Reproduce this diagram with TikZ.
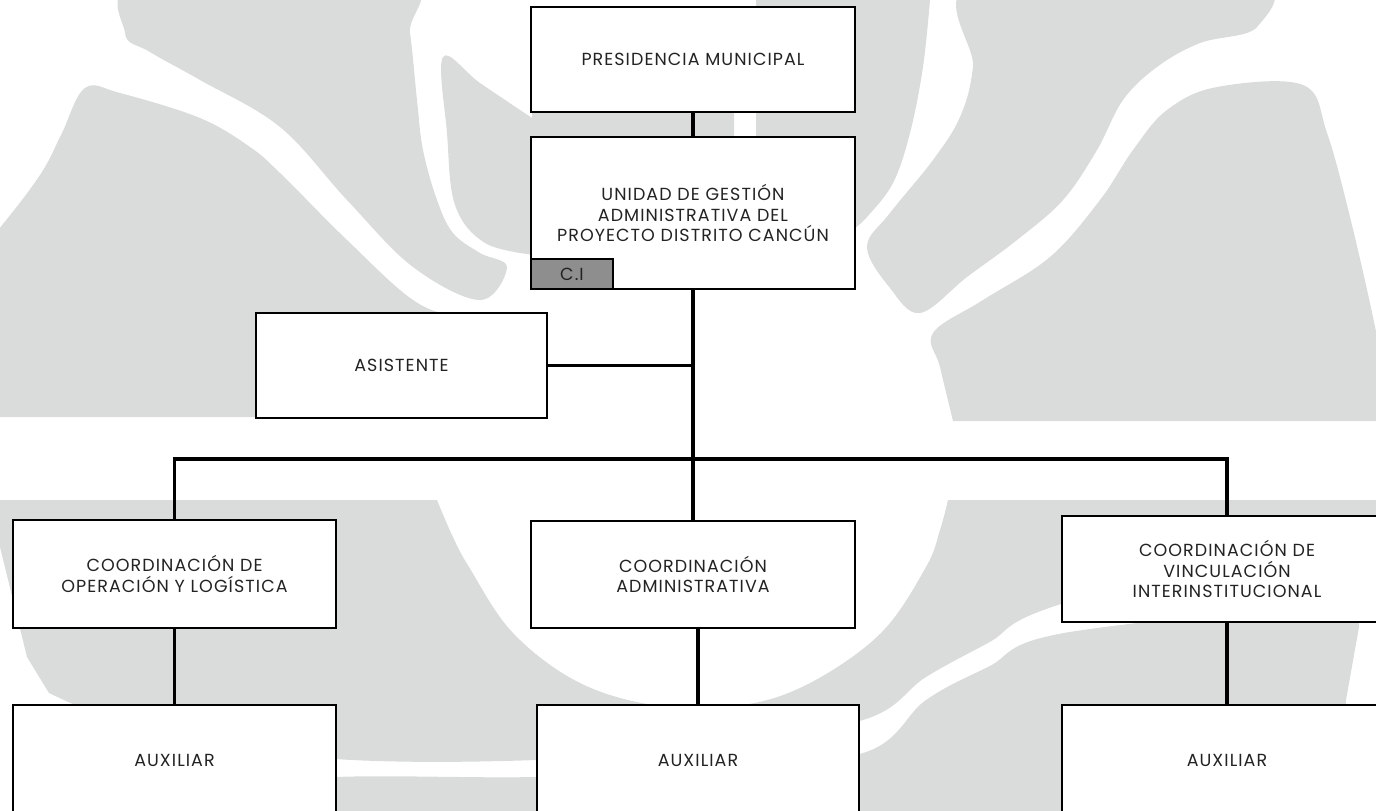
\documentclass[tikz,border=0pt]{standalone}
\usepackage{fontspec}
\setmainfont{Poppins}[LetterSpace=6]
\usepackage{tikz}
\usetikzlibrary{positioning}

\definecolor{leafgrey}{RGB}{217,220,218}
\definecolor{cigrey}{RGB}{142,142,142}
\definecolor{ink}{RGB}{35,35,35}

\begin{document}
\begin{tikzpicture}[x=1pt,y=-1pt,
    box/.style={draw=black,line width=2.8pt,fill=white,align=center,text=ink,
      inner sep=0pt,font=\fontsize{17.5}{20.5}\selectfont},
    link/.style={line width=3.2pt,black},
    leaf/.style={fill=leafgrey}]
    \useasboundingbox (0,0) rectangle (1376,811);
    \clip (0,0) rectangle (1376,811);

    \fill[leaf] plot[smooth cycle,tension=0.6] coordinates {(125,33) (145,-20) (400,-20) (410,33) (417,100) (423,150) (437,200) (453,233) (480,253) (507,267) (480,300) (413,267) (347,200) (280,127) (200,80) (150,52)};
    \fill[leaf] plot[smooth,tension=0.6] coordinates {(-10,240) (22,200) (45,167) (62,133) (85,88) (120,93) (200,118) (250,147) (280,173) (347,240) (413,300) (460,317) (515,322)} -- (540,417) -- (-10,417) -- cycle;
    \fill[leaf] plot[smooth,tension=0.6] coordinates {(535,255) (485,243) (455,205) (447,133) (443,57) (480,83) (532,118)} -- (532,100) -- (734,100) -- (734,270) -- cycle;
    \fill[leaf] (756,-20) -- (932,-20) -- plot[smooth,tension=0.6] coordinates {(930,0) (923,67) (910,133) (893,183) (867,217) (850,232)} -- (756,250) -- cycle;
    \fill[leaf] plot[smooth cycle,tension=0.6] coordinates {(977,-20) (973,67) (960,117) (933,160) (890,213) (867,247) (890,288) (920,313) (967,277) (1017,240) (1063,200) (1097,150) (1123,100) (1157,67) (1200,43) (1257,27) (1250,-20)};
    \fill[leaf] plot[smooth,tension=0.6] coordinates {(953,421) (940,367) (933,333) (983,300) (1050,257) (1100,200) (1133,150) (1167,110) (1217,87) (1303,85) (1327,133) (1350,217) (1373,317) (1385,380)} -- (1390,421) -- cycle;
    \fill[leaf] (-20,500) -- plot[smooth,tension=0.6] coordinates {(437,500) (452,535) (469,567) (513,633) (580,683) (660,706) (743,705) (810,683) (881,633) (926,567) (940,530) (948,500)} -- (1390,500) -- (1390,518) -- plot[smooth,tension=0.6] coordinates {(1376,520) (1064,603) (988,643) (926,677) (863,720) (700,746) (536,760) (335,759) (160,735) (49,693)} -- (27,657) -- (0,547) -- (-20,545) -- cycle;
    \fill[leaf] (60,830) -- plot[smooth,tension=0.6] coordinates {(200,790) (335,777) (536,777) (700,769) (863,753) (926,700) (988,667) (1064,633) (1359,600)} -- (1359,627) -- (1346,700) -- (1337,830) -- cycle;

    \node[box,minimum width=324pt,minimum height=105pt] (pres) at (693,59.5) {PRESIDENCIA MUNICIPAL};
    \node[box,minimum width=324pt,minimum height=152pt] (unidad) at (693,213) {UNIDAD DE GESTIÓN\\ADMINISTRATIVA DEL\\PROYECTO DISTRITO CANCÚN};
    \node[box,fill=cigrey,minimum width=82pt,minimum height=30pt,anchor=south west] (ci) at (unidad.south west) {C.I};
    \node[box,minimum width=291pt,minimum height=105pt] (asist) at (401.5,365.5) {ASISTENTE};
    \node[box,minimum width=323pt,minimum height=108pt] (coordOp) at (174.5,574) {COORDINACIÓN DE\\OPERACIÓN Y LOGÍSTICA};
    \node[box,minimum width=324pt,minimum height=107pt] (coordAdm) at (693,574.5) {COORDINACIÓN\\ADMINISTRATIVA};
    \node[box,minimum width=330pt,minimum height=106pt] (coordVin) at (1227,569) {COORDINACIÓN DE\\VINCULACIÓN\\INTERINSTITUCIONAL};
    \node[box,minimum width=323pt,minimum height=110pt] (auxOp) at (174.5,760) {AUXILIAR};
    \node[box,minimum width=322pt,minimum height=110pt] (auxAdm) at (698,760) {AUXILIAR};
    \node[box,minimum width=330pt,minimum height=110pt] (auxVin) at (1227,760) {AUXILIAR};
    \coordinate (bus) at (693,459);

    \draw[link] (pres) -- (unidad);
    \draw[link] (unidad) -- (coordAdm);
    \draw[link] (asist) -- (asist -| unidad);
    \draw[link] (coordOp) |- (bus) -| (coordVin);
    \draw[link] (coordOp) -- (auxOp);
    \draw[link] (coordAdm.south -| auxAdm) -- (auxAdm);
    \draw[link] (coordVin) -- (auxVin);
\end{tikzpicture}
\end{document}
